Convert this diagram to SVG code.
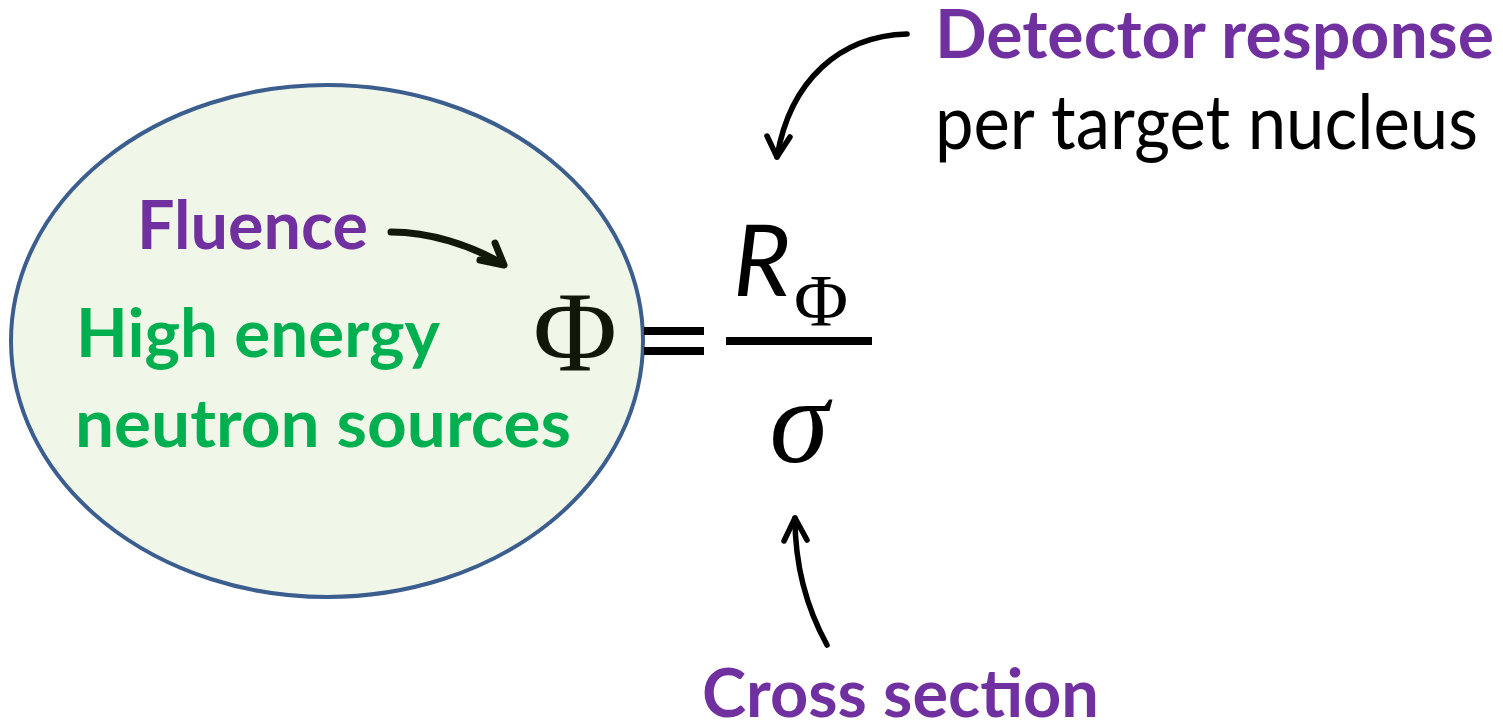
<svg xmlns="http://www.w3.org/2000/svg" width="1503" height="724" viewBox="0 0 1503 724">
<style>
.lbl{font-family:Lato,"Open Sans","Liberation Sans",sans-serif;font-weight:bold}
.purple{fill:#7030A0}
.green{fill:#00B050}
.plain{font-family:Lato,"Open Sans","Liberation Sans",sans-serif;fill:#000}
.serif{font-family:"Liberation Serif","DejaVu Serif",serif}
.arr{fill:none;stroke:#000;stroke-linecap:round;stroke-linejoin:round}
</style>
<rect width="1503" height="724" fill="#fff"/>
<g id="sources">
<ellipse cx="327" cy="341" rx="316" ry="256" fill="#F0F7E9" stroke="#3B5E8E" stroke-width="4"/>
<text class="lbl green" x="76" y="357" font-size="66" textLength="364" lengthAdjust="spacingAndGlyphs">High energy</text>
<text class="lbl green" x="75" y="447" font-size="66" textLength="496" lengthAdjust="spacingAndGlyphs">neutron sources</text>
</g>
<g id="fluence">
<text class="lbl purple" x="137" y="249" font-size="66" textLength="231" lengthAdjust="spacingAndGlyphs">Fluence</text>
</g>
<g id="detector">
<text class="lbl purple" x="935" y="58" font-size="66" textLength="559" lengthAdjust="spacingAndGlyphs">Detector response</text>
<text class="plain" x="935" y="149" font-size="76" textLength="543" lengthAdjust="spacingAndGlyphs">per target nucleus</text>
</g>
<g id="crosssection">
<text class="lbl purple" x="702" y="717" font-size="66" textLength="397" lengthAdjust="spacingAndGlyphs">Cross section</text>
</g>
<g id="formula">
<text class="serif" x="575" y="370" font-size="115" text-anchor="middle" fill="#10180A">Φ</text>
<rect x="644" y="327" width="60" height="8" fill="#000"/>
<rect x="644" y="347" width="60" height="8" fill="#000"/>
<text x="762" y="296" font-size="99" font-style="italic" text-anchor="middle" font-family="Lato,'Open Sans','Liberation Sans',sans-serif" fill="#000">R</text>
<text class="serif" x="821" y="326" font-size="74" text-anchor="middle" fill="#000">Φ</text>
<rect x="726" y="337" width="146" height="8" fill="#000"/>
<text class="serif" x="799" y="462" font-size="120" font-style="italic" text-anchor="middle" fill="#000">σ</text>
</g>
<g id="connectors">
<path class="arr" stroke-width="7" style="stroke:#111A0A" d="M391,232 C430,232 470,245 503,264"/>
<path class="arr" stroke-width="7" style="stroke:#111A0A" d="M495,243 L504,265 L480,260"/>
<path class="arr" stroke-width="5.5" d="M907,34 C840,36 790,80 777,157"/>
<path class="arr" stroke-width="5.5" d="M767,136 L777,157 L790,137"/>
<path class="arr" stroke-width="5.5" d="M827,645 C805,605 795,565 795,518"/>
<path class="arr" stroke-width="5.5" d="M784,541 L795,518 L807,540"/>
</g>
</svg>
